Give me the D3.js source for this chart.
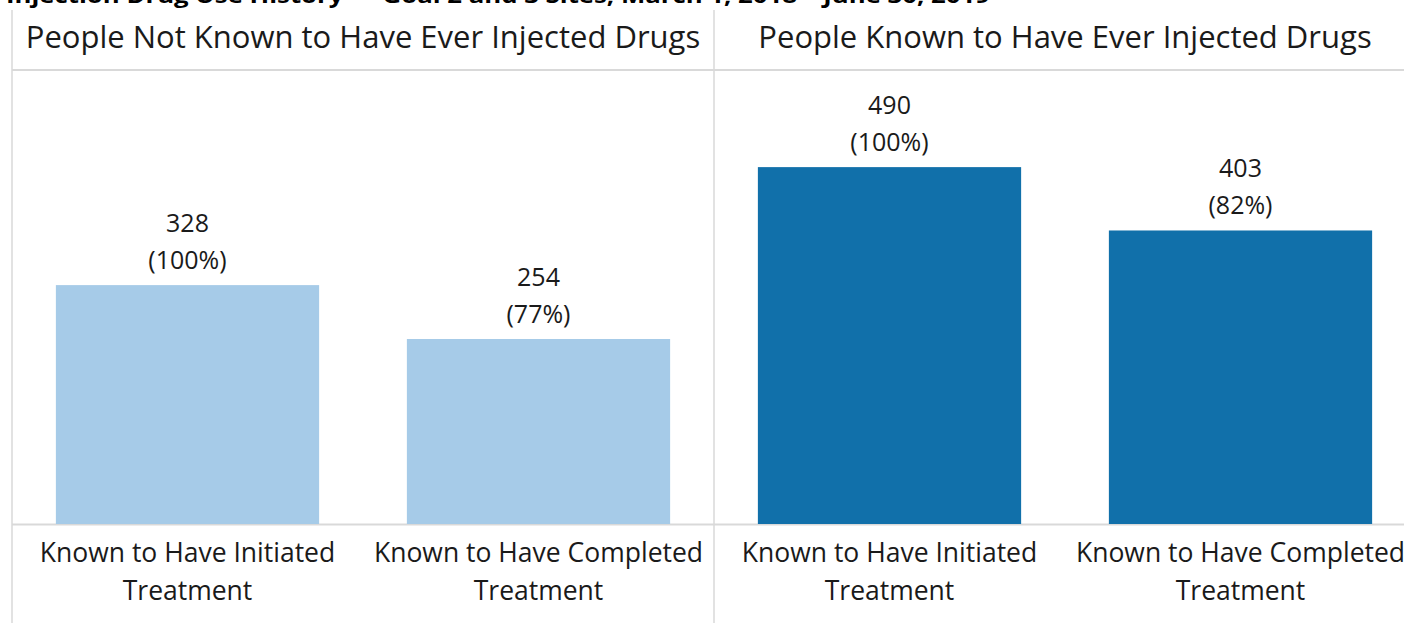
<!DOCTYPE html>
<html>
<head>
<meta charset="utf-8">
<script src="https://cdn.jsdelivr.net/npm/d3@7"></script>
<style>
  body { margin: 0; background: #fff; }
  svg { display: block; font-family: "Open Sans", sans-serif; }
</style>
</head>
<body>
<div id="chart"></div>
<script>
const title = 'Injection Drug Use History \u2014 Goal 2 and 3 Sites, March 1, 2018 \u2013 June 30, 2019';
const panels = ['People Not Known to Have Ever Injected Drugs', 'People Known to Have Ever Injected Drugs'];
const categories = ['Known to Have Initiated Treatment', 'Known to Have Completed Treatment'];
const notInjectedCounts = [328, 254];
const notInjectedPct = [100, 77];
const injectedCounts = [490, 403];
const injectedPct = [100, 82];
const panelColors = ['#a6cbe8', '#1170aa'];

const width = 1404, height = 623;
const baseY = 524;

const panelData = [
  {name: panels[0], counts: notInjectedCounts, pct: notInjectedPct, color: panelColors[0]},
  {name: panels[1], counts: injectedCounts, pct: injectedPct, color: panelColors[1]}
];

const svg = d3.select('#chart').append('svg')
  .attr('width', width)
  .attr('height', height);

const xPanel = d3.scaleBand().domain(panels).range([12, 1416]);
const xCat = d3.scaleBand().domain(categories).range([0, xPanel.bandwidth()])
  .paddingInner(0.25).paddingOuter(0.125);
const y = d3.scaleLinear().domain([0, 600]).range([baseY, 87]);

// title, cut by the top edge like the original
svg.append('text')
  .attr('x', 6)
  .attr('y', 3)
  .attr('font-size', 22)
  .attr('font-weight', 'bold')
  .attr('fill', '#000')
  .attr('textLength', 984)
  .attr('lengthAdjust', 'spacingAndGlyphs')
  .text(title);

// grid lines
svg.append('line')
  .attr('x1', 12).attr('x2', width)
  .attr('y1', 70).attr('y2', 70)
  .attr('stroke', '#d9d9d9').attr('stroke-width', 2);
svg.append('line')
  .attr('x1', 12).attr('x2', width)
  .attr('y1', baseY + 0.5).attr('y2', baseY + 0.5)
  .attr('stroke', '#d9d9d9').attr('stroke-width', 2);
panels.forEach((p) => {
  svg.append('line')
    .attr('x1', xPanel(p)).attr('x2', xPanel(p))
    .attr('y1', 10).attr('y2', height)
    .attr('stroke', '#d9d9d9').attr('stroke-width', 1.5);
});

function fitText(sel, maxW) {
  sel.each(function () {
    if (this.getComputedTextLength() > maxW) {
      d3.select(this).attr('textLength', maxW).attr('lengthAdjust', 'spacingAndGlyphs');
    }
  });
}

const g = svg.selectAll('g.panel')
  .data(panelData)
  .enter()
  .append('g')
  .attr('class', 'panel')
  .attr('transform', (d) => `translate(${xPanel(d.name)},0)`);

g.append('text')
  .attr('x', xPanel.bandwidth() / 2)
  .attr('y', 48)
  .attr('text-anchor', 'middle')
  .attr('font-size', 31)
  .attr('fill', '#1a1a1a')
  .text((d) => d.name)
  .call(fitText, 688);

g.each(function (p) {
  const pg = d3.select(this);
  const rows = categories.map((c, i) => ({cat: c, v: p.counts[i], pct: p.pct[i]}));

  pg.selectAll('rect')
    .data(rows)
    .enter()
    .append('rect')
    .attr('x', (d) => xCat(d.cat))
    .attr('y', (d) => y(d.v))
    .attr('width', xCat.bandwidth())
    .attr('height', (d) => baseY - y(d.v))
    .attr('fill', p.color);

  const lbl = pg.selectAll('text.val')
    .data(rows)
    .enter()
    .append('text')
    .attr('class', 'val')
    .attr('text-anchor', 'middle')
    .attr('font-size', 25)
    .attr('fill', '#1a1a1a')
    .attr('x', (d) => xCat(d.cat) + xCat.bandwidth() / 2);
  lbl.append('tspan').attr('x', (d) => xCat(d.cat) + xCat.bandwidth() / 2)
    .attr('y', (d) => y(d.v) - 53).text((d) => d.v);
  lbl.append('tspan').attr('x', (d) => xCat(d.cat) + xCat.bandwidth() / 2)
    .attr('y', (d) => y(d.v) - 16).text((d) => `(${d.pct}%)`);

  const cl = pg.selectAll('text.cat')
    .data(categories)
    .enter()
    .append('text')
    .attr('class', 'cat')
    .attr('text-anchor', 'middle')
    .attr('font-size', 26.5)
    .attr('fill', '#1a1a1a');
  cl.append('tspan')
    .attr('x', (d) => xCat(d) + xCat.bandwidth() / 2)
    .attr('y', 562)
    .text((d) => d.slice(0, d.lastIndexOf(' ')));
  cl.append('tspan')
    .attr('x', (d) => xCat(d) + xCat.bandwidth() / 2)
    .attr('y', 600)
    .text((d) => d.slice(d.lastIndexOf(' ') + 1));
});
</script>
</body>
</html>
